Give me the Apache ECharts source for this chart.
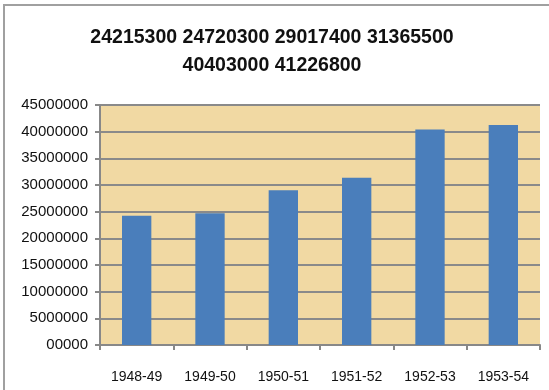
<!DOCTYPE html>
<html>
<head>
<meta charset="utf-8">
<script src="https://cdn.jsdelivr.net/npm/echarts@6/dist/echarts.min.js"></script>
<style>
  html, body { margin: 0; padding: 0; background: #fff; }
  #chart { width: 549px; height: 390px; }
</style>
</head>
<body>
<div id="chart"></div>
<script>
const categories = ['1948-49', '1949-50', '1950-51', '1951-52', '1952-53', '1953-54'];
const values = [24215300, 24720300, 29017400, 31365500, 40403000, 41226800];
const yTickLabels = ['00000', '5000000', '10000000', '15000000', '20000000',
  '25000000', '30000000', '35000000', '40000000', '45000000'];

const chart = echarts.init(document.getElementById('chart'));

// title is just the values, split over two lines
const titleText = values.slice(0, 4).join(' ') + '\n' + values.slice(4).join(' ');

const option = {
  backgroundColor: '#ffffff',
  animation: false,
  title: {
    text: titleText,
    left: 267,
    textAlign: 'center',
    top: 19,
    textStyle: {
      fontFamily: 'Liberation Sans',
      fontWeight: 'bold',
      fontSize: 19.5,
      lineHeight: 28,
      color: '#111'
    }
  },
  graphic: [
    {
      type: 'rect',
      shape: { x: 4, y: 5, width: 600, height: 400 },
      style: { fill: 'none', stroke: '#a0a0a0', lineWidth: 2 },
      silent: true
    }
  ],
  grid: {
    left: 100,
    right: 9,
    top: 105,
    bottom: 45,
    show: true,
    backgroundColor: '#f1d9a3',
    borderWidth: 0
  },
  xAxis: {
    type: 'category',
    data: categories,
    axisLine: { lineStyle: { color: '#888', width: 2 } },
    axisTick: { show: true, alignWithLabel: false, length: 5, lineStyle: { color: '#888', width: 2 } },
    axisLabel: {
      margin: 25,
      fontFamily: 'Liberation Sans',
      fontSize: 14,
      color: '#111'
    }
  },
  yAxis: {
    type: 'value',
    min: 0,
    max: 45000000,
    interval: 5000000,
    axisLine: { show: true, lineStyle: { color: '#888', width: 2 } },
    axisTick: { show: true, length: 5, lineStyle: { color: '#888', width: 2 } },
    splitLine: { lineStyle: { color: '#8a8a8a', width: 2 } },
    axisLabel: {
      margin: 12,
      fontFamily: 'Liberation Sans',
      fontSize: 15,
      color: '#111',
      formatter: function (v) {
        return yTickLabels[Math.round(v / 5000000)];
      }
    }
  },
  series: [
    {
      type: 'bar',
      data: values,
      barWidth: '40%',
      itemStyle: { color: '#4a7ebb' }
    }
  ]
};

chart.setOption(option);
</script>
</body>
</html>
